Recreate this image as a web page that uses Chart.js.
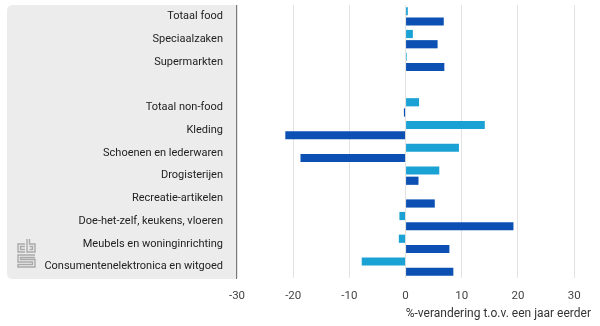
<!DOCTYPE html>
<html>
<head>
<meta charset="utf-8">
<script src="https://cdn.jsdelivr.net/npm/chart.js@4/dist/chart.umd.min.js"></script>
<style>
  html, body { margin:0; padding:0; background:#fff; }
  #wrap { width:600px; height:326px; position:relative; }
</style>
</head>
<body>
<div id="wrap"><canvas id="chart" width="600" height="326"></canvas></div>
<script>
// categories, top to bottom (empty one is the gap between food and non-food)
const categories = [
  'Totaal food', 'Speciaalzaken', 'Supermarkten', '',
  'Totaal non-food', 'Kleding', 'Schoenen en lederwaren', 'Drogisterijen',
  'Recreatie-artikelen', 'Doe-het-zelf, keukens, vloeren',
  'Meubels en woninginrichting', 'Consumentenelektronica en witgoed'
];
// light bars (upper) and dark bars (lower), % change vs a year earlier
const seriesLight = [0.4, 1.3, 0.2, null, 2.4, 14.1, 9.5, 6.0, 0, -1.1, -1.2, -7.8];
const seriesDark  = [6.8, 5.7, 6.9, null, -0.3, -21.4, -18.7, 2.3, 5.2, 19.2, 7.8, 8.5];
const xTicks = [-30, -20, -10, 0, 10, 20, 30];
const axisTitle = '%-verandering t.o.v. een jaar eerder';

const FONT = 'Roboto, sans-serif';

// grey label panel, edge line and the little cbs logo
const panelPlugin = {
  id: 'panel',
  beforeDraw(chart){
    const c = chart.ctx, a = chart.chartArea;
    c.save();
    const x0 = 7, x1 = Math.round(a.left), y0 = a.top, y1 = a.bottom + 1, r = 6;
    c.fillStyle = '#ececec';
    c.beginPath();
    c.moveTo(x1, y0);
    c.lineTo(x0 + r, y0);
    c.quadraticCurveTo(x0, y0, x0, y0 + r);
    c.lineTo(x0, y1 - r);
    c.quadraticCurveTo(x0, y1, x0 + r, y1);
    c.lineTo(x1, y1);
    c.closePath();
    c.fill();
    // logo
    c.strokeStyle = '#a9a9a9';
    c.lineWidth = 1.4;
    c.beginPath();
    // c
    c.moveTo(25, 244); c.lineTo(18, 244); c.lineTo(18, 252); c.lineTo(25, 252);
    c.moveTo(25, 246.5); c.lineTo(20.5, 246.5); c.lineTo(20.5, 249.5); c.lineTo(25, 249.5);
    // b
    c.moveTo(27, 239); c.lineTo(27, 252); c.lineTo(35, 252); c.lineTo(35, 244); c.lineTo(29.5, 244); c.lineTo(29.5, 239);
    c.moveTo(29.5, 246.5); c.lineTo(32.5, 246.5); c.lineTo(32.5, 249.5); c.lineTo(29.5, 249.5);
    // s
    c.moveTo(35, 255); c.lineTo(18, 255); c.lineTo(18, 262); c.lineTo(32.5, 262); c.lineTo(32.5, 264.5); c.lineTo(18, 264.5); c.lineTo(18, 267); c.lineTo(35, 267); c.lineTo(35, 259.5); c.lineTo(20.5, 259.5); c.lineTo(20.5, 257.5); c.lineTo(35, 257.5);
    c.stroke();
    c.restore();
  },
  afterDraw(chart){
    const c = chart.ctx, a = chart.chartArea;
    c.save();
    c.strokeStyle = '#7a7a7a';
    c.lineWidth = 1;
    c.beginPath();
    c.moveTo(Math.round(a.left) - 0.5, a.top);
    c.lineTo(Math.round(a.left) - 0.5, a.bottom + 1);
    c.stroke();
    c.restore();
  }
};

new Chart(document.getElementById('chart'), {
  type: 'bar',
  data: {
    labels: categories,
    datasets: [
      { data: seriesLight, backgroundColor: '#1ba2d4', barPercentage: 0.8, categoryPercentage: 0.9 },
      { data: seriesDark,  backgroundColor: '#0b50b2', barPercentage: 0.8, categoryPercentage: 0.9 }
    ]
  },
  options: {
    indexAxis: 'y',
    responsive: false,
    animation: false,
    layout: { padding: { top: 5, right: 9, left: 0, bottom: 0 } },
    plugins: { legend: { display: false }, tooltip: { enabled: false } },
    scales: {
      x: {
        min: -30, max: 33,
        afterBuildTicks: s => { s.ticks = xTicks.map(v => ({ value: v })); },
        grid: { color: '#e2e2e2', drawTicks: false, lineWidth: 1 },
        border: { display: false },
        ticks: { color: '#444', font: { family: FONT, size: 11.5 }, padding: 11 },
        title: { display: true, text: axisTitle, align: 'end', color: '#333',
                 font: { family: FONT, size: 12 }, padding: { top: 0, bottom: 5 } },
        afterFit: s => { s.height = 48; }
      },
      y: {
        grid: { display: false, drawTicks: false },
        border: { display: false },
        ticks: { color: '#222', font: { family: FONT, size: 11 }, padding: 14, autoSkip: false },
        afterFit: s => { s.width = 237; s.paddingTop = 0; s.paddingBottom = 0; }
      }
    }
  },
  plugins: [panelPlugin]
});
</script>
</body>
</html>
